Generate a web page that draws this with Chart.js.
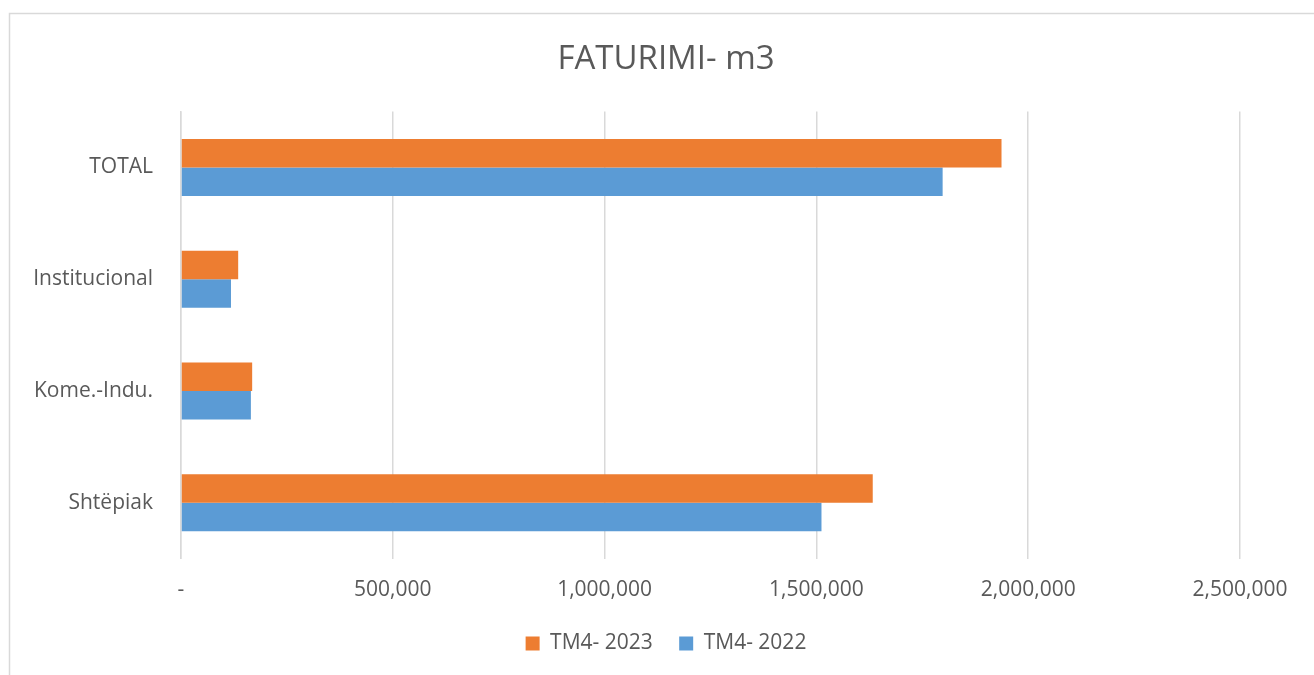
<!DOCTYPE html>
<html>
<head>
<meta charset="utf-8">
<script src="https://cdn.jsdelivr.net/npm/chart.js@4"></script>
<style>
  html, body { margin: 0; padding: 0; background: #fff; }
  #wrap { position: absolute; left: 0; top: 0; width: 1314px; height: 675px; }
</style>
</head>
<body>
<div id="wrap"><canvas id="chart"></canvas></div>
<script>
const categories = ['TOTAL', 'Institucional', 'Kome.-Indu.', 'Shtëpiak'];
const series2023 = [1937000, 135000, 168000, 1633000];
const series2022 = [1798000, 118000, 165000, 1512000];
const xTicks = [0, 500000, 1000000, 1500000, 2000000, 2500000];

const FONT = '"Open Sans", sans-serif';
const TEXT = '#595959';

// outer chart border like the Excel chart frame
const frame = {
  id: 'frame',
  beforeDraw(chart) {
    const ctx = chart.ctx;
    ctx.save();
    ctx.fillStyle = '#fff';
    ctx.fillRect(0, 0, chart.width, chart.height);
    ctx.strokeStyle = '#d9d9d9';
    ctx.lineWidth = 1.5;
    ctx.strokeRect(9.5, 13.5, 1400, 700);
    ctx.restore();
  }
};

new Chart(document.getElementById('chart'), {
  type: 'bar',
  data: {
    labels: categories,
    datasets: [
      { label: 'TM4- 2023', data: series2023, backgroundColor: '#ED7D31', borderWidth: 0 },
      { label: 'TM4- 2022', data: series2022, backgroundColor: '#5B9BD5', borderWidth: 0 }
    ]
  },
  options: {
    indexAxis: 'y',
    responsive: true,
    maintainAspectRatio: false,
    animation: false,
    datasets: { bar: { categoryPercentage: 0.51, barPercentage: 1.0 } },
    layout: { padding: { left: 18, right: 0, top: 0, bottom: 11 } },
    plugins: {
      title: {
        display: true,
        text: 'FATURIMI- m3',
        color: TEXT,
        font: { family: FONT, size: 33, weight: 'normal' },
        padding: { top: 40, bottom: 32 }
      },
      legend: {
        position: 'bottom',
        labels: {
          color: TEXT,
          font: { family: FONT, size: 21 },
          boxWidth: 14,
          boxHeight: 14,
          padding: 10,
          generateLabels(chart) {
            // spacing after the first entry only, keeps the pair centred
            return chart.data.datasets.map((ds, i) => ({
              text: i === 0 ? ds.label + '   ' : ds.label,
              fillStyle: ds.backgroundColor,
              strokeStyle: ds.backgroundColor,
              lineWidth: 0,
              fontColor: TEXT,
              datasetIndex: i
            }));
          }
        }
      },
      tooltip: { enabled: false }
    },
    scales: {
      x: {
        min: 0,
        max: 2500000,
        afterBuildTicks(scale) {
          scale.ticks = xTicks.map(v => ({ value: v }));
        },
        afterFit(scale) { scale.height = 64.5; },
        grid: { color: '#d9d9d9', lineWidth: 1.5, drawTicks: false },
        border: { display: false },
        ticks: {
          color: TEXT,
          font: { family: FONT, size: 21 },
          padding: 19,
          maxRotation: 0,
          callback: v => v === 0 ? '-' : v.toLocaleString('en-US')
        }
      },
      y: {
        afterFit(scale) { scale.width = 163; },
        grid: { display: false, drawTicks: false },
        border: { display: true, color: '#d9d9d9', width: 1.5 },
        ticks: {
          color: TEXT,
          font: { family: FONT, size: 21 },
          padding: 28
        }
      },
      // empty right-hand spacer so the plot ends where the reference does
      yRight: {
        type: 'category',
        position: 'right',
        afterFit(scale) { scale.width = 74; },
        grid: { display: false, drawTicks: false },
        border: { display: false },
        ticks: { display: false }
      }
    }
  },
  plugins: [frame]
});
</script>
</body>
</html>
